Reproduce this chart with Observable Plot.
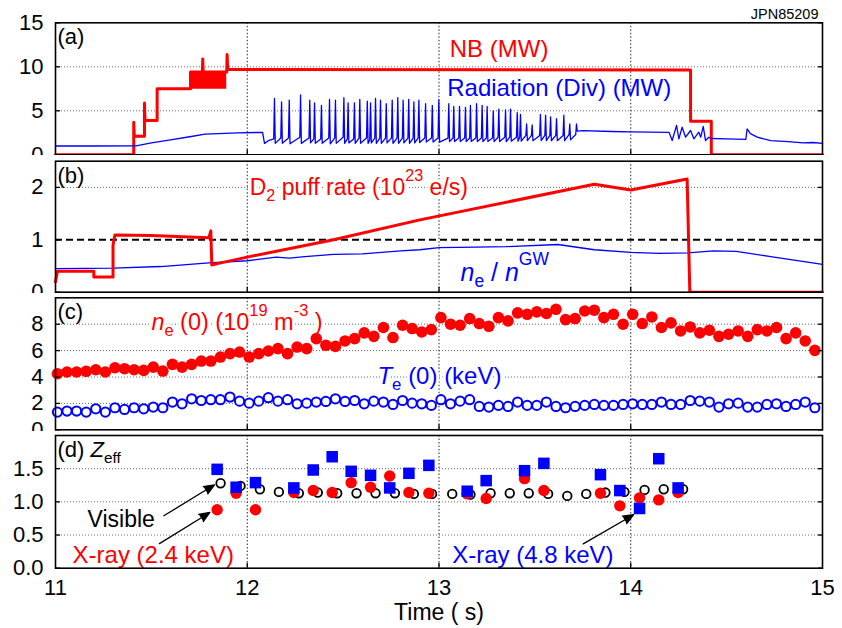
<!DOCTYPE html>
<html><head><meta charset="utf-8">
<script src="https://cdn.jsdelivr.net/npm/d3@7"></script>
<script src="https://cdn.jsdelivr.net/npm/@observablehq/plot@0.6"></script>
<style>
html,body{margin:0;padding:0;background:#fff;}
#chart{position:relative;width:842px;height:628px;overflow:hidden;}
#chart svg{position:absolute;left:0;background:#fff;}
</style></head><body><div id="chart"></div>
<script>
// ---------- shared ----------
const xTicks = [11, 12, 13, 14, 15];
const xGrid = [12, 13, 14];
const RED = "#ff0000", BLUE = "#0000ff";
const FONT = '"Liberation Sans", Arial, Helvetica, sans-serif';

// ---------- (a) NB power and divertor radiation ----------
const nbT = [11.0, 11.408, 11.408, 11.411, 11.464, 11.464, 11.467, 11.53, 11.53, 11.704, 11.704, 11.766, 11.768, 11.770, 11.893, 11.895, 11.898, 14.312, 14.312, 14.42, 14.42, 15.0];
const nbV = [0, 0, 3.7, 2.1, 2.1, 5.9, 3.9, 3.9, 7.5, 7.5, 9.4, 9.4, 10.9, 9.4, 9.4, 11.4, 9.7, 9.65, 3.8, 3.8, 0, 0];
const nbBandT = [11.704, 11.893];
const nbBandLo = [7.45, 7.45];
const nbBandHi = [9.4, 9.4];

const radPreT = [11.0, 11.2, 11.42, 11.5, 11.6, 11.7, 11.78, 11.85, 11.95, 12.08, 12.09, 12.11, 12.13];
const radPreV = [1.0, 1.0, 1.02, 1.35, 1.7, 2.05, 2.35, 2.4, 2.5, 2.55, 1.3, 1.6, 1.75];
// ELMs: [time, level before, peak, level after]
const elms = [
  [12.142, 1.8, 6.4, 1.3], [12.179, 1.9, 6.0, 1.3], [12.219, 1.9, 6.2, 1.25], [12.278, 2.0, 6.8, 1.3],
  [12.326, 1.9, 6.2, 1.35], [12.351, 1.8, 5.9, 1.3], [12.387, 1.8, 5.6, 1.3], [12.429, 1.9, 6.3, 1.25],
  [12.46, 1.9, 6.2, 1.3], [12.504, 2.0, 6.5, 1.3], [12.526, 1.8, 5.9, 1.35], [12.559, 1.8, 5.9, 1.3],
  [12.587, 1.9, 6.3, 1.3], [12.626, 1.9, 6.1, 1.3], [12.643, 1.7, 5.9, 1.35], [12.669, 1.9, 6.4, 1.3],
  [12.695, 1.9, 6.2, 1.3], [12.725, 1.9, 5.8, 1.35], [12.756, 1.9, 6.2, 1.3], [12.785, 1.9, 6.5, 1.3],
  [12.813, 1.9, 6.2, 1.35], [12.842, 1.9, 6.3, 1.3], [12.869, 1.9, 6.0, 1.35], [12.895, 1.9, 6.2, 1.4],
  [12.93, 1.9, 5.8, 1.45], [12.965, 1.9, 5.6, 1.45], [12.999, 1.9, 6.25, 1.45], [13.051, 1.9, 5.8, 1.5],
  [13.077, 1.9, 5.5, 1.5], [13.107, 1.9, 5.5, 1.5], [13.138, 1.9, 5.4, 1.5], [13.164, 1.9, 5.6, 1.5],
  [13.196, 1.9, 5.8, 1.5], [13.225, 1.9, 5.6, 1.5], [13.251, 1.9, 5.5, 1.5], [13.283, 1.9, 5.0, 1.5],
  [13.312, 2.0, 5.2, 1.5], [13.347, 2.0, 5.1, 1.5], [13.373, 2.0, 5.2, 1.55], [13.408, 2.0, 4.8, 1.55],
  [13.425, 2.0, 4.6, 1.55], [13.457, 2.2, 3.5, 1.6], [13.486, 2.2, 3.4, 1.6], [13.529, 2.2, 4.6, 1.6],
  [13.556, 2.2, 4.5, 1.6], [13.582, 2.2, 4.3, 1.6], [13.613, 2.2, 4.1, 1.6], [13.651, 2.2, 4.5, 1.6],
  [13.682, 2.3, 3.5, 1.7], [13.717, 2.3, 3.5, 2.7]
];
const radPostT = [13.75, 13.9, 14.0, 14.2, 14.216, 14.239, 14.251, 14.268, 14.286, 14.312, 14.329, 14.355, 14.365, 14.378, 14.39, 14.407, 14.42, 14.5, 14.6, 14.607, 14.624, 14.66, 14.73, 14.82, 14.9, 14.95, 15.0];
const radPostV = [2.75, 2.65, 2.6, 2.55, 1.62, 3.33, 1.82, 3.14, 2.0, 2.76, 1.82, 2.57, 2.0, 3.22, 1.62, 2.0, 1.85, 1.8, 1.75, 2.95, 2.4, 2.0, 1.6, 1.5, 1.35, 1.4, 1.3];

// ---------- (b) D2 puff rate and Greenwald fraction ----------
const d2T = [11.0, 11.01, 11.2, 11.2, 11.3, 11.3, 11.31, 11.5, 11.8, 11.81, 11.815, 11.85, 12.0, 12.45, 12.9, 13.81, 14.0, 14.294, 14.308, 15.0];
const d2V = [0.2, 0.4, 0.4, 0.29, 0.29, 0.9, 1.09, 1.08, 1.04, 1.17, 0.52, 0.55, 0.67, 1.0, 1.38, 2.06, 1.95, 2.16, 0, 0];
const gwT = [11.0, 11.3, 11.55, 11.8, 12.0, 12.15, 12.22, 12.3, 12.45, 12.6, 12.8, 12.9, 13.0, 13.19, 13.35, 13.62, 13.81, 14.0, 14.15, 14.3, 14.43, 14.55, 14.73, 15.0];
const gwV = [0.45, 0.46, 0.49, 0.56, 0.6, 0.67, 0.65, 0.68, 0.72, 0.73, 0.79, 0.81, 0.85, 0.86, 0.87, 0.91, 0.81, 0.76, 0.74, 0.75, 0.79, 0.78, 0.68, 0.53];
const gwLimit = [1];

// ---------- (c) central density and temperature ----------
const cT = [11.01, 11.06, 11.11, 11.16, 11.21, 11.26, 11.31, 11.36, 11.41, 11.46,
  11.51, 11.56, 11.61, 11.66, 11.71, 11.76, 11.81, 11.86, 11.91, 11.96,
  12.01, 12.06, 12.11, 12.16, 12.21, 12.26, 12.31, 12.36, 12.41, 12.46,
  12.51, 12.56, 12.61, 12.66, 12.71, 12.76, 12.81, 12.86,
  12.91, 12.96, 13.01, 13.06, 13.11, 13.16, 13.21, 13.26, 13.31, 13.36,
  13.41, 13.46, 13.51, 13.56, 13.61, 13.66, 13.71, 13.76, 13.81, 13.86,
  13.91, 13.96, 14.01, 14.06, 14.11, 14.16, 14.21, 14.26, 14.31, 14.36,
  14.41, 14.46, 14.51, 14.56, 14.61, 14.66, 14.71, 14.76, 14.81, 14.86,
  14.91, 14.96];
const ne0 = [4.25, 4.38, 4.38, 4.43, 4.55, 4.38, 4.7, 4.63, 4.55, 4.5, 4.75, 4.45, 4.96, 4.75, 4.96, 5.21, 5.21, 5.51, 5.77, 5.89,
  5.51, 5.77, 5.97, 6.15, 5.77, 6.27, 6.15, 6.91, 6.4, 6.32, 6.73, 6.91, 7.34, 7.08, 7.75, 6.99, 7.92, 7.67,
  7.41, 7.59, 8.5, 8.0, 7.92, 8.43, 8.05, 7.84, 8.5, 8.25, 8.86, 8.75, 8.93, 8.81, 9.13, 8.35, 8.43, 9.0, 9.06, 8.5,
  8.75, 8.0, 8.75, 8.05, 8.55, 7.75, 8.1, 7.49, 7.79, 7.34, 7.54, 7.08, 7.24, 7.49, 7.08, 7.59, 7.49, 7.75, 6.91, 7.34,
  6.73, 6.02];
const te0 = [1.34, 1.42, 1.42, 1.34, 1.59, 1.34, 1.67, 1.54, 1.67, 1.59, 1.72, 1.67, 2.1, 1.97, 2.35, 2.22, 2.28, 2.28, 2.48, 2.17,
  2.02, 2.17, 2.43, 2.17, 2.28, 1.97, 2.02, 2.1, 2.15, 2.35, 2.15, 2.22, 1.97, 2.17, 2.1, 1.92, 2.22, 2.02,
  1.97, 1.85, 2.28, 1.97, 2.17, 2.28, 1.77, 1.72, 1.85, 1.77, 2.1, 1.85, 1.85, 2.1, 1.77, 1.67, 1.77, 1.85, 1.92, 1.85,
  1.85, 1.92, 1.97, 1.92, 1.92, 2.1, 1.92, 1.92, 2.22, 2.17, 2.1, 1.72, 1.97, 2.02, 1.72, 1.72, 1.92, 1.97, 1.77, 1.92,
  2.1, 1.67];

// ---------- (d) Zeff ----------
const visT = [11.861, 11.965, 12.066, 12.165, 12.269, 12.368, 12.469, 12.57, 12.669, 12.77, 12.869, 12.964, 13.069, 13.164, 13.269, 13.369, 13.468, 13.569, 13.669, 13.768, 13.868, 13.967, 14.072, 14.172, 14.273];
const visV = [1.28, 1.24, 1.19, 1.15, 1.13, 1.14, 1.13, 1.13, 1.13, 1.13, 1.12, 1.12, 1.12, 1.11, 1.13, 1.13, 1.13, 1.12, 1.09, 1.12, 1.14, 1.15, 1.18, 1.19, 1.19];
const xrT = [11.843, 11.942, 12.043, 12.243, 12.344, 12.443, 12.542, 12.643, 12.743, 12.843, 12.947, 13.147, 13.246, 13.446, 13.547, 13.842, 13.943, 14.046, 14.146, 14.247];
const xr24V = [0.88, 1.13, 0.88, 1.14, 1.17, 1.14, 1.29, 1.22, 1.39, 1.14, 1.13, 1.12, 1.05, 1.35, 1.17, 1.13, 0.94, 1.06, 1.03, 1.14];
const xr48V = [1.49, 1.22, 1.29, 1.21, 1.48, 1.68, 1.46, 1.40, 1.21, 1.43, 1.55, 1.16, 1.32, 1.47, 1.58, 1.41, 1.17, 0.90, 1.65, 1.21];
const arrowsD = [
  {x1: 11.565, y1: 0.79, x2: 11.829, y2: 1.257},
  {x1: 11.542, y1: 0.37, x2: 11.805, y2: 0.84},
  {x1: 13.752, y1: 0.366, x2: 14.015, y2: 0.806}
];

// ---------- annotation texts (markup: *italic*, _{sub}, ^{sup}) ----------
const labelsA = [
  {s: "NB (MW)", t: 13.056, v: 11.97, c: RED, fs: 24},
  {s: "Radiation (Div) (MW)", t: 13.043, v: 7.5, c: BLUE, fs: 24}
];
const labelsB = [
  {s: "D_{2} puff rate (10^{23} e/s)", t: 12.013, v: 1.99, c: RED, fs: 23, halo: true},
  {s: "*n*_{e} / *n*^{GW}", t: 13.112, v: 0.37, c: BLUE, fs: 25, halo: true}
];
const labelsC = [
  {s: "*n*_{e} (0) (10^{19} m^{-3} )", t: 11.5, v: 8.12, c: RED, fs: 23.5, halo: true},
  {s: "*T*_{e} (0) (keV)", t: 12.679, v: 4.07, c: BLUE, fs: 24, halo: true}
];
const labelsD = [
  {s: "Visible", t: 11.167, v: 0.727, c: "#000", fs: 23},
  {s: "X-ray (2.4 keV)", t: 11.089, v: 0.2, c: RED, fs: 24},
  {s: "X-ray (4.8 keV)", t: 13.069, v: 0.2, c: BLUE, fs: 24}
];

// ---------- build tables ----------
const zip = (T, V) => T.map((t, i) => ({t, v: V[i]}));
const nb = zip(nbT, nbV);
const nbBand = nbBandT.map((t, i) => ({t, lo: nbBandLo[i], hi: nbBandHi[i]}));
const rad = [
  ...zip(radPreT, radPreV),
  ...elms.flatMap(([t, pre, peak, lo]) => [{t: t - 0.004, v: pre}, {t, v: peak}, {t: t + 0.004, v: lo}]),
  ...zip(radPostT, radPostV)
];
const d2 = zip(d2T, d2V);
const gw = zip(gwT, gwV);
const ne = zip(cT, ne0);
const te = zip(cT, te0);
const vis = zip(visT, visV);
const xr24 = zip(xrT, xr24V);
const xr48 = zip(xrT, xr48V);

const annot = (list) => list.map(a => Plot.text([a], {
  x: "t", y: "v", text: "s", fill: a.c, fontSize: a.fs, textAnchor: "start",
  ...(a.halo ? {stroke: "white", strokeWidth: 6} : {})
}));
const panelLabel = (s) => Plot.text([s], {frameAnchor: "top-left", dx: 2, dy: 6, lineAnchor: "top", textAnchor: "start", fontSize: 22, fill: "#000"});

const chart = document.getElementById("chart");

function panel({top, height, mt, mb, yDomain, yTicks, yGrid, yFmt = d => String(d), marks, extra = []}) {
  const svg = Plot.plot({
    width: 842, height, marginLeft: 55, marginRight: 20, marginTop: mt, marginBottom: mb,
    x: {domain: [11, 15]},
    y: {domain: yDomain},
    marks: [
      Plot.gridX(xGrid, {stroke: "#000", strokeOpacity: 0.85, strokeDasharray: "1.5,2"}),
      Plot.gridY(yGrid, {stroke: "#000", strokeOpacity: 0.6, strokeDasharray: "1,2"}),
      ...marks,
      Plot.axisY(yTicks, {anchor: "left", tickSize: 0, tickPadding: 12, fontSize: 22, tickFormat: yFmt, label: null, fill: "#000"}),
      Plot.axisY(yTicks, {anchor: "left", tickSize: -5, fill: "none", label: null, strokeWidth: 1.3}),
      Plot.axisY(yTicks, {anchor: "right", tickSize: -5, fill: "none", label: null, strokeWidth: 1.3}),
      Plot.axisX(xGrid, {anchor: "bottom", tickSize: -5, fill: "none", label: null, strokeWidth: 1.3}),
      ...extra,
      Plot.frame({stroke: "#000", strokeWidth: 1.6})
    ]
  });
  svg.style.position = "absolute";
  svg.style.top = top + "px";
  svg.style.left = "0px";
  svg.style.background = "#fff";
  svg.style.fontFamily = FONT;
  chart.appendChild(svg);
  return svg;
}

// (a)
panel({
  top: 0, height: 155, mt: 22.3, mb: 0.7, yDomain: [0, 15], yTicks: [0, 5, 10, 15], yGrid: [5, 10],
  marks: [
    Plot.areaY(nbBand, {x: "t", y1: "lo", y2: "hi", fill: RED}),
    Plot.line(nb, {x: "t", y: "v", stroke: RED, strokeWidth: 3, curve: "linear"}),
    Plot.line(rad, {x: "t", y: "v", stroke: BLUE, strokeWidth: 1.3}),
    panelLabel("(a)"),
    ...annot(labelsA),
    Plot.text(["JPN85209"], {frameAnchor: "top-right", dx: -4, dy: -4, lineAnchor: "bottom", textAnchor: "end", fontSize: 14.5, fill: "#000"})
  ]
});

// (b)
panel({
  top: 155, height: 138, mt: 5.7, mb: 1.3, yDomain: [0, 2.5], yTicks: [0, 1, 2], yGrid: [2],
  marks: [
    Plot.ruleY(gwLimit, {stroke: "#000", strokeWidth: 2, strokeDasharray: "7,4"}),
    Plot.line(gw, {x: "t", y: "v", stroke: BLUE, strokeWidth: 1.3}),
    Plot.line(d2, {x: "t", y: "v", stroke: RED, strokeWidth: 3}),
    panelLabel("(b)"),
    ...annot(labelsB)
  ]
});

// (c)
panel({
  top: 293, height: 138, mt: 4.3, mb: 1.7, yDomain: [0, 10], yTicks: [0, 2, 4, 6, 8], yGrid: [2, 4, 6, 8],
  marks: [
    ...annot(labelsC),
    Plot.dot(ne, {x: "t", y: "v", r: 5.8, fill: RED}),
    Plot.dot(te, {x: "t", y: "v", r: 4.6, stroke: BLUE, strokeWidth: 2, fill: "white"}),
    panelLabel("(c)")
  ]
});

// (d)
panel({
  top: 431, height: 197, mt: 4, mb: 60.3, yDomain: [0, 2], yTicks: [0, 0.5, 1, 1.5], yGrid: [0.5, 1, 1.5],
  yFmt: d3.format(".1f"),
  marks: [
    Plot.dot(vis, {x: "t", y: "v", r: 4.3, stroke: "#000", strokeWidth: 1.8, fill: "none"}),
    Plot.dot(xr24, {x: "t", y: "v", r: 5.7, fill: RED}),
    Plot.dot(xr48, {x: "t", y: "v", r: 6.5, symbol: "square", fill: BLUE}),
    Plot.arrow(arrowsD, {x1: "x1", y1: "y1", x2: "x2", y2: "y2", stroke: "#000", fill: "#000", strokeWidth: 1.3, headLength: 13, headAngle: 45}),
    panelLabel("(d) *Z*_{eff}"),
    ...annot(labelsD)
  ],
  extra: [
    Plot.axisX(xTicks, {anchor: "bottom", tickSize: 0, tickPadding: 11, fontSize: 22, tickFormat: d => String(d), label: null, fill: "#000"}),
    Plot.text(["Time ( s)"], {frameAnchor: "bottom", dy: 52, lineAnchor: "bottom", fontSize: 23, fill: "#000"})
  ]
});

// ---------- rich text: italic, sub- and superscripts ----------
const NS = "http://www.w3.org/2000/svg";
chart.querySelectorAll("text").forEach(el => {
  const s = el.textContent;
  if (!/\*|_\{|\^\{/.test(s)) return;
  const F = parseFloat(getComputedStyle(el).fontSize);
  const segs = [];
  let buf = "", italic = false, i = 0;
  const push = (txt, mode) => { if (txt) segs.push({txt, mode, italic}); };
  while (i < s.length) {
    const c = s[i];
    if (c === "*") { push(buf, "n"); buf = ""; italic = !italic; i++; }
    else if ((c === "_" || c === "^") && s[i + 1] === "{") {
      push(buf, "n"); buf = "";
      const j = s.indexOf("}", i);
      push(s.slice(i + 2, j), c === "_" ? "sub" : "sup");
      i = j + 1;
    } else { buf += c; i++; }
  }
  push(buf, "n");
  el.textContent = "";
  el.setAttribute("xml:space", "preserve");
  el.style.whiteSpace = "pre";
  let shift = 0;
  for (const g of segs) {
    const ts = document.createElementNS(NS, "tspan");
    const target = g.mode === "sup" ? -0.62 * F : g.mode === "sub" ? 0.26 * F : 0;
    const dy = target - shift;
    if (dy) ts.setAttribute("dy", dy);
    shift = target;
    if (g.mode !== "n") ts.setAttribute("font-size", (0.7 * F).toFixed(1));
    if (g.italic) ts.setAttribute("font-style", "italic");
    ts.textContent = g.txt;
    el.appendChild(ts);
  }
});
</script></body></html>
